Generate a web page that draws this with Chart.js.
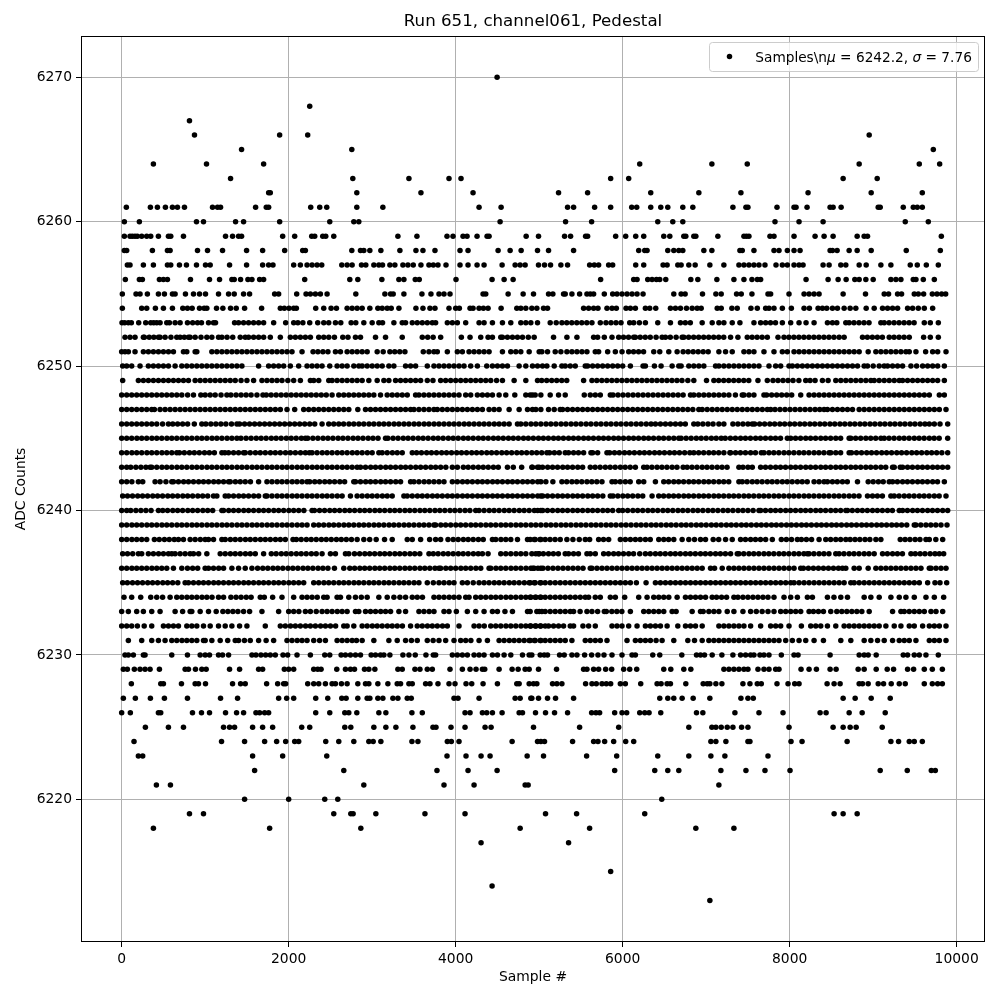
<!DOCTYPE html>
<html><head><meta charset="utf-8">
<script src="https://cdn.jsdelivr.net/npm/chart.js@4"></script>
<style>html,body{margin:0;padding:0;background:#fff}canvas{display:block}</style>
</head><body><canvas id="c" width="1000" height="1000"></canvas>
<script>
const titleText = "Run 651, channel061, Pedestal";
const xLabel = "Sample #";
const yLabel = "ADC Counts";
const xTicks = [0,2000,4000,6000,8000,10000];
const yTicks = [6220,6230,6240,6250,6260,6270];
const r6270=[4496];
const r6268=[2252];
const r6267=[812];
const r6266=[872,1892,2228,8952];
const r6265=[1436,2756,9720];
const r6264=[380,1016,1700,6204,7068,7492,8832,9552,9796];
const r6263=[1304,2768,3440,3920,4064,5856,6072,8640,9048];
const r6262=[1760,1780,2816,3584,4208,5232,5580,6336,6912,7416,8220,8976,9588];
const r6261=[56,344,428,524,608,668,752,1088,1148,1184,1604,1732,1760,2264,2372,2456,2816,3128,4280,4544,5340,5412,5664,5856,6108,6168,6336,6456,6540,6720,6840,7320,7476,7500,7848,8052,8076,8208,8484,8520,8616,9060,9084,9360,9480,9528,9588];
const r6260=[32,212,896,980,1364,1460,1892,2492,2780,2840,4532,5316,5628,6420,6600,6720,7824,8112,8400,9384,9660];
const r6259=[32,100,128,160,188,240,300,348,440,560,588,740,1244,1328,1400,1436,1928,2072,2276,2312,2408,2444,2540,3308,3536,3896,3968,4088,4136,4256,4376,4400,4844,4992,5304,5376,5556,5580,5916,6036,6156,6252,6492,6564,6732,6756,6852,6876,7140,7452,7482,7512,7764,7812,8052,8304,8412,8520,8808,8892,8932,9816];
const r6258=[32,60,368,548,580,908,1028,1208,1496,1688,1952,2168,2200,2756,2860,2900,2972,3104,3332,3524,3608,3752,4052,4148,4508,4652,4784,4980,5112,5412,6192,6264,6292,6540,6612,6672,6720,6972,7068,7404,7432,7572,7812,7872,7972,8052,8124,8484,8512,8568,8712,8808,8976,9396,9804];
const r6257=[68,100,260,380,548,588,692,776,896,1004,1060,1292,1496,1688,1760,1812,2060,2140,2220,2280,2340,2396,2636,2700,2760,2872,2924,3020,3080,3124,3212,3272,3368,3428,3492,3584,3680,3732,3788,3884,4052,4148,4256,4340,4556,4712,4772,4832,4992,5064,5136,5260,5340,5604,5660,5712,5832,5880,6156,6252,6484,6532,6660,6700,6792,6868,7044,7212,7392,7452,7512,7572,7632,7704,7836,7912,7972,8052,8112,8160,8400,8472,8612,8672,8832,8916,9092,9212,9444,9528,9636,9780];
const r6256=[44,212,248,452,500,548,824,1052,1172,1320,1348,1424,1512,1560,1652,1700,2192,2732,2828,3116,3320,3380,3516,3564,4004,4436,4580,4688,5736,6132,6172,6300,6352,6404,6444,6516,6816,6900,7128,7332,7452,7548,7612,7652,8196,8460,8580,8676,8780,8832,8912,9000,9212,9272,9332,9480,9512,9600,9732];
const r6255=[8,172,220,308,440,512,608,640,764,860,932,1004,1160,1280,1348,1460,1532,1832,1880,2096,2208,2260,2320,2380,2460,2804,3152,3220,3252,3380,3596,3704,3800,3860,3932,4328,4360,4628,4808,4932,5112,5164,5292,5312,5392,5484,5572,5612,5652,5780,5880,5932,5992,6052,6112,6172,6244,6612,6700,6748,6956,7116,7180,7364,7420,7548,7740,7772,7992,8172,8232,8292,8352,8640,8908,9132,9184,9292,9340,9492,9540,9604,9708,9764,9820,9868];
const r6254=[8,240,300,404,500,608,732,788,844,932,988,1020,1136,1212,1304,1372,1472,1676,1900,1948,2004,2060,2092,2324,2420,2508,2572,2700,2760,2820,2880,2972,3068,3120,3180,3228,3320,3524,3608,3692,3752,3920,4000,4044,4172,4208,4280,4332,4388,4544,4732,4780,4840,4912,4972,5052,5100,5532,5592,5652,5704,5812,5872,5924,6040,6092,6152,6272,6324,6396,6572,6632,6692,6764,6832,6892,6940,7132,7180,7308,7372,7536,7612,7712,7752,7812,7912,8020,8172,8236,8340,8392,8444,8512,8572,8652,8724,8792,8916,9012,9112,9172,9232,9292,9412,9472,9540,9612,9712];
const r6253=[4,36,80,116,204,288,348,384,420,460,540,572,640,700,788,850,908,956,1040,1100,1124,1352,1400,1460,1520,1580,1640,1700,1820,1964,2060,2110,2170,2252,2348,2420,2480,2560,2624,2748,2804,2900,3000,3080,3124,3260,3360,3400,3480,3540,3600,3660,3720,3760,3900,3960,4020,4120,4280,4340,4440,4560,4660,4780,4840,4900,4980,5132,5204,5272,5330,5390,5450,5510,5570,5632,5732,5800,5860,5920,5980,6084,6132,6200,6272,6420,6572,6692,6750,6810,6952,7072,7152,7212,7312,7404,7572,7652,7712,7770,7830,7912,8012,8112,8196,8292,8452,8512,8564,8672,8712,8770,8830,8890,8950,9092,9132,9190,9250,9310,9370,9430,9490,9612,9684,9780];
const r6252=[40,100,160,260,272,330,385,440,460,520,590,660,700,750,800,820,880,950,1020,1080,1160,1200,1262,1330,1420,1480,1520,1580,1640,1700,1780,1900,2020,2080,2140,2200,2260,2360,2420,2480,2548,2648,2710,2800,2860,3040,3160,3360,3600,3665,3730,3820,4068,4172,4300,4388,4440,4540,4560,4620,4680,4740,4800,4870,4940,5172,5332,5452,5652,5700,5780,5872,5952,6010,6070,6132,6152,6210,6270,6330,6400,6472,6512,6570,6640,6712,6732,6790,6850,6910,6970,7030,7090,7150,7210,7292,7380,7492,7550,7610,7670,7732,7860,7932,7990,8050,8110,8170,8230,8290,8350,8410,8470,8530,8592,8652,8872,8930,8990,9050,9110,9192,9250,9310,9370,9432,9604,9684,9780];
const r6251=[0,40,80,160,260,320,380,440,500,560,620,740,780,880,900,1080,1140,1200,1260,1320,1380,1440,1500,1560,1620,1680,1740,1800,1860,1920,1980,2040,2160,2292,2350,2410,2470,2560,2620,2700,2760,2820,2880,2940,3060,3132,3212,3270,3330,3392,3612,3680,3740,3780,3900,4020,4080,4160,4220,4280,4340,4400,4560,4660,4720,4780,4880,5000,5032,5100,5192,5260,5332,5392,5452,5512,5572,5672,5712,5820,5912,5992,6072,6130,6190,6250,6372,6444,6552,6652,6724,6784,6844,6904,6964,7024,7152,7232,7312,7452,7512,7572,7692,7812,7912,7972,8052,8112,8172,8232,8292,8352,8412,8472,8532,8592,8652,8712,8772,8832,8940,9032,9092,9152,9212,9272,9332,9392,9432,9512,9628,9712,9772,9872];
const r6250=[12,60,120,220,320,380,440,500,560,640,720,780,840,900,960,1020,1080,1140,1200,1260,1320,1380,1440,1640,1760,1820,1880,1940,2020,2120,2220,2280,2340,2400,2492,2580,2640,2700,2780,2840,2880,2940,3000,3060,3120,3200,3260,3400,3460,3520,3660,3740,3800,3860,3920,3980,4040,4100,4180,4260,4372,4440,4500,4560,4620,4760,4840,4920,4980,5040,5092,5180,5272,5312,5372,5432,5552,5580,5640,5700,5760,5820,5880,5940,6000,6092,6244,6272,6380,6460,6592,6672,6700,6792,6852,6912,6972,7112,7152,7212,7272,7332,7392,7452,7512,7572,7632,7752,7832,7892,7992,8032,8092,8152,8212,8272,8332,8392,8452,8512,8572,8632,8692,8752,8812,8892,8932,9000,9072,9132,9172,9232,9292,9352,9452,9520,9592,9652,9712,9772,9852];
const r6249=[12,200,260,320,380,440,500,560,620,680,740,800,880,940,1000,1060,1120,1180,1240,1300,1360,1430,1500,1580,1680,1740,1800,1860,1920,1990,2060,2140,2260,2300,2360,2480,2520,2580,2640,2700,2760,2820,2880,2960,3060,3140,3200,3280,3340,3400,3460,3520,3580,3660,3728,3820,3880,3940,4000,4060,4120,4180,4240,4300,4360,4420,4490,4560,4700,4840,4980,5030,5090,5150,5210,5270,5330,5532,5632,5690,5750,5810,5870,5930,5990,6050,6110,6170,6230,6290,6350,6410,6470,6530,6590,6650,6710,6780,6852,7004,7092,7150,7210,7270,7330,7390,7450,7510,7620,7732,7800,7860,7920,7980,8040,8110,8192,8244,8304,8392,8460,8552,8612,8672,8732,8792,8852,8912,8972,9012,9072,9132,9192,9252,9312,9352,9412,9472,9532,9592,9652,9712,9772,9852];
const r6248=[0,60,120,180,240,300,360,420,480,540,600,660,720,790,860,948,1000,1060,1120,1190,1260,1308,1370,1430,1490,1550,1620,1692,1732,1790,1850,1910,1970,2030,2090,2150,2210,2270,2330,2390,2450,2520,2600,2660,2720,2780,2840,2900,2960,3020,3100,3180,3240,3300,3360,3420,3520,3560,3620,3680,3740,3800,3860,3920,3980,4040,4120,4180,4260,4320,4380,4440,4520,4600,4708,4840,4920,5020,4892,4952,5132,5232,5312,5540,5612,5672,5732,5852,5884,5944,6004,6064,6124,6184,6244,6304,6364,6424,6484,6544,6604,6664,6724,6812,6852,6912,6972,7032,7092,7152,7212,7272,7350,7432,7452,7512,7572,7692,7724,7784,7844,7904,7964,8024,8132,8232,8292,8352,8412,8472,8532,8592,8652,8712,8772,8832,8892,8952,9012,9072,9132,9192,9252,9312,9372,9432,9492,9552,9612,9672,9792,9852];
const r6247=[0,60,120,180,240,300,360,392,460,520,580,640,700,760,820,880,940,1000,1060,1120,1180,1240,1300,1360,1420,1480,1540,1600,1660,1720,1780,1840,1900,1980,2072,2180,2240,2300,2360,2420,2480,2540,2600,2660,2720,2828,2920,2980,3040,3100,3160,3220,3280,3340,3400,3460,3500,3560,3620,3680,3740,3780,3840,3900,3960,4020,4080,4140,4200,4260,4320,4400,4460,4520,4640,4760,4860,4920,4960,5020,5112,5180,5252,5280,5340,5400,5460,5520,5580,5640,5700,5760,5820,5880,5940,6000,6060,6120,6180,6240,6300,6360,6420,6480,6540,6600,6660,6720,6780,6840,6912,6952,7012,7072,7132,7192,7252,7312,7372,7432,7492,7552,7612,7672,7732,7772,7824,7884,7944,8004,8064,8124,8184,8244,8304,8360,8412,8452,8512,8572,8632,8692,8752,8832,8892,8952,9012,9072,9132,9192,9252,9312,9372,9432,9492,9552,9612,9672,9732,9792,9872];
const r6246=[0,60,120,180,240,300,360,420,490,560,612,670,730,790,870,960,1008,1068,1128,1188,1248,1315,1380,1412,1472,1532,1592,1652,1712,1772,1832,1892,1952,2012,2072,2132,2192,2252,2312,2400,2480,2540,2600,2658,2722,2780,2841,2900,2962,3020,3082,3140,3200,3262,3320,3381,3440,3502,3560,3622,3680,3741,3800,3860,3921,3980,4040,4102,4160,4220,4281,4340,4400,4462,4520,4580,4640,4740,4780,4840,4902,4960,5020,5082,5140,5200,5262,5320,5382,5440,5500,5562,5620,5682,5740,5802,5860,5922,5980,6042,6100,6162,6220,6282,6340,6392,6452,6512,6572,6632,6692,6750,6852,6900,6960,7022,7082,7152,7212,7320,7380,7440,7500,7552,7580,7640,7700,7762,7820,7882,7940,8002,8060,8122,8180,8242,8300,8362,8420,8482,8540,8602,8660,8722,8780,8842,8900,8962,9020,9082,9140,9202,9260,9322,9380,9442,9500,9562,9620,9672,9732,9800,9892];
const r6245=[0,60,120,182,240,300,362,420,480,542,600,660,722,780,840,902,960,1020,1082,1140,1200,1262,1320,1380,1428,1490,1550,1612,1670,1730,1792,1850,1910,1972,2030,2090,2152,2200,2228,2290,2350,2412,2470,2530,2592,2650,2710,2772,2830,2890,2952,3010,3070,3160,3188,3250,3310,3372,3430,3490,3552,3610,3670,3732,3790,3850,3912,3970,4030,4092,4150,4210,4272,4330,4390,4452,4510,4570,4632,4690,4750,4812,4870,4930,4992,5050,5110,5172,5230,5290,5352,5410,5470,5532,5590,5650,5712,5770,5830,5892,5950,6010,6072,6130,6190,6252,6310,6370,6432,6490,6552,6612,6672,6700,6760,6820,6882,6940,7000,7062,7120,7180,7228,7290,7350,7412,7470,7530,7592,7650,7710,7772,7830,7890,7972,8012,8070,8130,8192,8250,8310,8372,8430,8490,8552,8610,8712,8732,8790,8850,8912,8970,9030,9092,9132,9190,9250,9312,9370,9430,9492,9550,9610,9672,9730,9790,9892];
const r6244=[0,60,122,180,240,302,360,420,482,540,600,660,692,750,812,870,930,992,1050,1110,1200,1236,1280,1340,1400,1460,1480,1540,1602,1660,1720,1782,1840,1900,1962,2020,2080,2142,2200,2248,2280,2340,2402,2460,2520,2582,2640,2700,2762,2820,2880,2942,3000,3080,3120,3180,3242,3300,3360,3480,3532,3590,3652,3710,3770,3832,3890,3950,4012,4070,4130,4192,4250,4310,4372,4430,4490,4552,4610,4670,4732,4790,4850,4912,4970,5030,5092,5124,5182,5240,5312,5352,5412,5470,5532,5620,5640,5700,5812,5844,5902,5960,6022,6080,6140,6202,6260,6320,6382,6440,6500,6562,6620,6680,6742,6804,6852,6910,6970,7032,7090,7150,7212,7284,7292,7352,7410,7470,7532,7590,7660,7692,7752,7810,7870,7932,7990,8050,8112,8170,8230,8292,8350,8410,8472,8492,8552,8610,8712,8740,8800,8860,8922,8980,9040,9102,9160,9220,9282,9340,9400,9462,9520,9580,9642,9700,9760,9822,9892];
const r6243=[0,60,108,170,230,290,340,360,420,482,540,600,662,720,780,842,900,960,1022,1080,1140,1202,1260,1320,1382,1440,1500,1562,1620,1680,1742,1800,1860,1922,1980,2040,2102,2160,2220,2282,2340,2400,2462,2520,2580,2642,2700,2760,2820,2860,2920,2982,3040,3100,3162,3220,3280,3342,3400,3460,3522,3580,3640,3702,3760,3820,3882,3960,4020,4092,4150,4210,4272,4330,4390,4452,4510,4620,4690,4790,4920,5000,4912,4980,5040,5102,5160,5220,5282,5340,5400,5462,5520,5612,5670,5730,5792,5850,5910,5972,6030,6090,6152,6252,6292,6350,6412,6470,6530,6592,6650,6724,6772,6830,6890,6952,7010,7070,7132,7190,7250,7392,7440,7500,7552,7652,7710,7770,7832,7890,7950,8012,8070,8130,8192,8250,8310,8372,8430,8490,8552,8610,8670,8732,8790,8850,8912,8970,9030,9092,9150,9232,9252,9324,9352,9412,9470,9532,9590,9650,9712,9770,9830,9892];
const r6242=[0,60,122,200,252,400,460,530,600,620,680,742,800,860,922,980,1040,1102,1160,1220,1280,1300,1362,1420,1480,1542,1640,1740,1800,1862,1920,1980,2042,2100,2160,2220,2252,2312,2370,2432,2490,2550,2612,2670,2780,2800,2860,2922,2980,3040,3102,3160,3220,3282,3340,3460,3500,3560,3622,3680,3740,3800,3860,3960,4020,4082,4140,4200,4262,4320,4380,4442,4500,4560,4622,4680,4740,4802,4860,4920,4982,5020,5080,5164,5272,5330,5392,5450,5510,5572,5630,5690,5752,5872,5912,5970,6032,6090,6192,6252,6392,6492,6550,6612,6670,6730,6792,6850,6910,6972,7030,7090,7152,7210,7270,7392,7432,7490,7552,7610,7670,7732,7790,7850,7912,7970,8030,8092,8150,8210,8292,8352,8412,8452,8512,8570,8632,8690,8812,8940,9000,9062,9120,9192,9232,9290,9352,9410,9470,9532,9590,9650,9712,9770,9852];
const r6241=[12,70,130,192,250,310,372,430,490,552,610,670,732,790,850,912,970,1030,1100,1140,1240,1280,1340,1402,1460,1520,1582,1640,1720,1740,1800,1862,1920,1980,2042,2100,2160,2222,2280,2340,2402,2460,2520,2582,2640,2740,2820,2880,2942,3000,3060,3122,3180,3240,3380,3420,3480,3542,3600,3660,3722,3780,3840,3902,3960,4020,4082,4140,4200,4262,4320,4380,4442,4500,4560,4622,4680,4740,4802,4860,4920,5020,4982,5042,5100,5160,5222,5280,5340,5402,5460,5520,5582,5640,5700,5762,5852,5884,5942,6002,6060,6120,6182,6240,6352,6432,6490,6552,6610,6670,6732,6790,6850,6912,6970,7030,7092,7150,7210,7272,7330,7390,7452,7510,7570,7632,7690,7750,7812,7870,7930,7992,8050,8110,8172,8230,8290,8352,8410,8470,8532,8590,8650,8712,8770,8830,8932,8992,9050,9110,9212,9252,9310,9372,9430,9490,9552,9610,9670,9732,9790,9872];
const r6240=[0,60,108,170,230,290,352,440,492,550,612,670,730,792,850,910,972,1030,1090,1200,1220,1282,1340,1400,1462,1520,1580,1642,1700,1760,1822,1880,1940,2002,2060,2120,2182,2280,2308,2370,2430,2492,2550,2610,2672,2730,2790,2852,2910,2970,3032,3090,3150,3212,3270,3330,3392,3450,3510,3572,3630,3690,3752,3810,3870,3932,3990,4050,4112,4170,4240,4280,4340,4402,4460,4520,4582,4640,4700,4762,4820,4880,4942,5020,4982,5042,5100,5160,5222,5280,5340,5402,5460,5520,5582,5640,5700,5762,5820,5880,5952,6000,6060,6122,6180,6240,6302,6360,6420,6482,6540,6600,6662,6720,6780,6842,6900,6960,7022,7080,7140,7202,7260,7320,7382,7440,7500,7562,7632,7652,7710,7772,7830,7890,7952,8010,8070,8132,8190,8250,8312,8370,8430,8492,8550,8610,8672,8692,8750,8812,8870,8930,8992,9050,9110,9172,9230,9312,9352,9410,9472,9530,9590,9652,9710,9770,9832,9892];
const r6239=[0,60,122,180,240,302,360,420,482,540,600,662,720,780,842,900,960,1022,1080,1140,1202,1260,1320,1382,1440,1500,1562,1620,1680,1742,1800,1860,1922,1980,2040,2102,2160,2220,2300,2360,2420,2482,2540,2600,2662,2720,2780,2842,2900,2960,3022,3080,3140,3202,3260,3320,3382,3440,3500,3562,3620,3680,3740,3760,3822,3880,3940,4002,4060,4120,4182,4240,4300,4362,4420,4480,4542,4600,4660,4722,4780,4840,4902,4960,5020,5082,5140,5200,5262,5320,5380,5442,5500,5560,5622,5680,5740,5802,5860,5920,5982,6040,6100,6162,6220,6280,6342,6400,6460,6522,6580,6640,6702,6760,6820,6882,6940,7000,7062,7120,7180,7242,7300,7360,7422,7480,7540,7602,7660,7720,7782,7840,7900,7962,8020,8080,8142,8200,8260,8322,8380,8440,8502,8560,8620,8682,8740,8800,8862,8920,8980,9042,9100,9160,9222,9280,9340,9402,9492,9512,9570,9632,9690,9750,9812,9884];
const r6238=[0,60,122,180,240,300,392,450,512,570,630,680,740,820,880,942,1000,1040,1100,1200,1240,1302,1360,1420,1482,1540,1600,1662,1720,1780,1842,1900,1960,2052,2092,2150,2212,2270,2330,2392,2450,2510,2572,2630,2690,2752,2820,2900,2970,3048,3148,3240,3420,3480,3580,3688,3760,3820,3908,3970,4030,4092,4150,4210,4272,4330,4440,4480,4542,4600,4660,4740,4860,4940,5020,4892,4952,5010,5072,5130,5190,5252,5332,5404,5480,5552,5604,5712,5770,5832,5972,6032,6092,6152,6210,6272,6330,6432,6492,6550,6612,6712,6792,6860,6932,6992,7084,7150,7232,7312,7412,7470,7532,7590,7650,7712,7792,7900,7960,8022,8092,8140,8200,8262,8352,8432,8490,8552,8610,8672,8724,8782,8840,8902,8960,9032,9092,9324,9382,9440,9502,9560,9632,9672,9750,9832];
const r6237=[12,70,132,200,240,320,380,442,500,560,600,640,700,760,820,860,922,1020,1180,1240,1302,1360,1420,1482,1540,1600,1700,1792,1850,1912,1970,2030,2092,2150,2210,2272,2330,2400,2500,2560,2680,2720,2788,2850,2912,2970,3030,3092,3150,3210,3272,3330,3390,3452,3510,3570,3680,3732,3790,3852,3910,3970,4032,4090,4150,4212,4270,4320,4388,4540,4600,4660,4722,4780,4840,4960,5000,4912,4992,5050,5112,5170,5230,5312,5352,5412,5470,5572,5612,5672,5772,5830,5892,5950,6010,6072,6130,6204,6272,6330,6392,6450,6510,6572,6630,6690,6752,6810,6870,6932,6990,7050,7112,7170,7230,7292,7372,7392,7450,7512,7570,7630,7692,7750,7810,7872,7930,7990,8052,8110,8170,8212,8232,8290,8352,8410,8470,8552,8592,8650,8712,8770,8830,8892,8950,9012,9112,9170,9232,9290,9350,9452,9504,9562,9620,9682,9740,9792,9844];
const r6236=[0,60,122,180,240,300,362,420,480,540,620,720,788,850,910,1000,1040,1100,1162,1220,1320,1400,1480,1560,1628,1690,1750,1812,1870,1930,1992,2050,2110,2172,2230,2290,2352,2410,2470,2548,2660,2732,2790,2852,2910,2970,3032,3090,3150,3212,3270,3330,3392,3450,3510,3572,3630,3690,3752,3800,3820,3882,3940,4000,4062,4120,4180,4242,4300,4400,4420,4482,4540,4600,4662,4720,4780,4842,4900,4940,5020,4924,4985,5045,5105,5165,5225,5285,5345,5405,5465,5525,5612,5632,5692,5752,5812,5872,5932,5992,6052,6112,6172,6232,6292,6352,6412,6472,6532,6592,6652,6712,6772,6832,6892,6952,7052,7100,7192,7272,7332,7392,7452,7512,7572,7632,7692,7752,7812,7872,7932,7992,8052,8132,8164,8224,8284,8344,8404,8464,8524,8584,8632,8672,8772,8832,8940,9032,9092,9152,9212,9272,9332,9392,9452,9512,9572,9672,9692,9752,9812,9872];
const r6235=[12,68,130,190,250,312,370,430,492,550,610,672,760,800,860,922,980,1040,1102,1160,1220,1282,1340,1400,1462,1520,1580,1642,1700,1760,1822,1880,1940,2002,2060,2120,2180,2300,2360,2422,2480,2540,2602,2660,2720,2782,2840,2900,2962,3020,3080,3142,3200,3260,3322,3380,3440,3502,3560,3660,3732,3800,3860,3922,3980,4080,4140,4210,4280,4340,4400,4462,4520,4580,4642,4700,4760,4822,4880,4940,5020,4892,4952,5012,5072,5132,5192,5252,5312,5372,5432,5492,5552,5612,5672,5732,5792,5852,5912,5972,6032,6092,6164,6280,6392,6452,6512,6572,6632,6692,6752,6812,6872,6932,6992,7052,7112,7172,7232,7292,7352,7412,7472,7532,7592,7652,7712,7772,7832,7892,7952,8012,8052,8112,8172,8232,8292,8352,8412,8472,8532,8592,8652,8732,8772,8832,8892,8952,9012,9072,9132,9192,9252,9312,9372,9432,9492,9552,9652,9740,9800,9880];
const r6234=[28,120,228,348,420,490,580,660,720,782,840,900,962,1020,1082,1160,1220,1308,1370,1430,1492,1550,1660,1708,1808,1920,2060,2160,2220,2280,2342,2420,2460,2580,2620,2720,2800,2870,2940,3080,3180,3260,3332,3400,3480,3540,3602,3740,3800,3860,3922,3980,4040,4120,4160,4240,4300,4360,4422,4480,4540,4602,4660,4720,4782,4840,4900,4962,5020,4892,4952,5012,5072,5132,5192,5252,5312,5372,5432,5492,5552,5592,5672,5732,5852,5912,6024,6192,6292,6372,6432,6492,6552,6652,6752,6812,6872,6932,6992,7072,7124,7184,7244,7332,7380,7440,7500,7560,7620,7680,7740,7812,7932,8012,8092,8212,8272,8452,8530,8612,8692,8892,8972,9072,9212,9312,9392,9492,9632,9732,9844];
const r6233=[0,80,180,260,360,460,640,730,820,840,940,1040,1132,1212,1272,1332,1392,1460,1532,1680,1880,2000,2060,2122,2200,2260,2330,2400,2460,2520,2582,2640,2700,2800,2840,2920,2980,3040,3102,3160,3220,3320,3400,3560,3620,3682,3740,3860,3920,4008,4140,4240,4340,4440,4500,4590,4680,4860,5000,4892,4972,5032,5072,5132,5192,5252,5312,5372,5412,5490,5572,5632,5700,5780,5804,5870,5930,5990,6092,6252,6312,6372,6432,6492,6592,6640,6832,6932,6964,7032,7092,7152,7252,7332,7440,7532,7600,7670,7740,7812,7892,7952,8012,8072,8132,8232,8284,8344,8404,8492,8564,8624,8684,8744,8804,8864,8952,9232,9332,9372,9432,9492,9552,9612,9692,9752,9832];
const r6232=[0,60,120,188,270,360,500,560,620,680,780,840,900,980,1060,1160,1240,1320,1412,1500,1720,1900,1960,2022,2080,2140,2202,2260,2320,2382,2440,2500,2562,2660,2700,2780,2880,2940,3002,3060,3120,3182,3240,3300,3362,3460,3540,3600,3662,3720,3780,3842,3900,4040,4220,4280,4342,4420,4480,4540,4602,4660,4720,4782,4840,4900,4962,5020,4892,4952,5012,5072,5112,5172,5232,5292,5372,5412,5524,5592,5672,5872,5932,5992,6072,6172,6272,6332,6392,6452,6532,6660,6752,6812,6872,6952,7152,7212,7272,7332,7392,7452,7532,7652,7772,7832,7892,7992,8140,8252,8312,8372,8452,8552,8652,8712,8772,8832,8892,8952,9012,9072,9152,9252,9332,9432,9492,9592,9672,9732,9792,9872];
const r6231=[80,240,360,440,520,600,660,722,780,840,900,980,1000,1080,1180,1270,1360,1400,1470,1540,1640,1730,1820,1980,2040,2102,2160,2220,2300,2370,2440,2580,2640,2700,2760,2812,2880,3020,3200,3300,3400,3470,3540,3660,3730,3800,3880,3980,4060,4120,4182,4280,4380,4520,4580,4642,4700,4760,4820,4880,4942,5020,4892,4952,5012,5072,5132,5192,5252,5312,5392,5552,5612,5672,5732,5812,6052,6152,6212,6272,6332,6400,6472,6612,6780,6860,6952,7032,7092,7152,7212,7272,7332,7392,7452,7512,7572,7632,7692,7752,7812,7872,7952,8032,8112,8192,8292,8404,8612,8732,8892,8972,9052,9132,9232,9312,9372,9432,9512,9672,9732,9792,9872];
const r6230=[40,80,140,260,280,600,788,940,1000,1052,1160,1208,1280,1560,1608,1668,1724,1780,1840,1932,1988,2100,2260,2432,2492,2628,2680,2740,2800,2860,2988,3040,3100,3140,3212,3368,3440,3516,3644,3732,3760,3960,4020,4080,4140,4220,4280,4340,4440,4500,4580,4660,4800,4880,4912,5012,5060,5100,5244,5300,5392,5452,5544,5628,5704,5776,5872,5992,6112,6152,6360,6444,6708,6884,6932,6980,7072,7188,7320,7412,7472,7532,7572,7644,7692,7752,7900,8052,8100,8484,8832,8892,8940,9036,9360,9412,9492,9552,9632,9780];
const r6229=[20,68,152,220,280,340,452,760,800,884,960,1012,1292,1412,1640,1688,1948,2000,2060,2300,2348,2388,2576,2680,2740,2788,2908,2960,3032,3308,3360,3512,3572,3660,3720,3932,4080,4172,4244,4320,4348,4520,4676,4748,4832,4880,4992,5208,5532,5572,5652,5712,5796,5868,6012,6084,6168,6492,6576,6732,6816,7212,7272,7332,7392,7452,7500,7620,7692,7752,7832,7872,8136,8232,8320,8484,8556,8820,8892,9036,9168,9244,9412,9484,9612,9708,9828];
const r6228=[116,468,500,716,880,920,1004,1328,1424,1480,1736,1868,1940,1964,2228,2300,2360,2440,2520,2560,2632,2700,2828,2920,2960,3068,3188,3300,3340,3440,3480,3640,3692,3788,3920,3992,4124,4192,4328,4500,4732,4760,4880,4932,4972,5160,5212,5272,5556,5632,5684,5752,5804,5856,5972,6032,6216,6412,6460,6532,6572,6756,6964,7012,7044,7116,7188,7440,7524,7612,7660,7848,7980,8060,8112,8448,8532,8604,8832,8872,8940,9060,9124,9216,9312,9384,9612,9708,9772,9828];
const r6227=[20,164,344,512,788,1184,1388,1880,1976,2060,2324,2468,2636,2688,2828,2940,2972,3068,3128,3248,3308,3420,3468,3980,4028,4280,4712,4772,4900,4912,4992,5100,5196,5412,6444,6540,6612,6712,6844,7044,7416,7500,7564,8640,8784,8976,9204];
const r6226=[0,104,440,468,848,956,1052,1244,1376,1460,1608,1652,1712,1760,2324,2492,2672,2720,2816,3080,3164,3476,3600,4112,4172,4320,4372,4440,4556,4760,4800,4956,5076,5184,5340,5628,5680,5724,5904,5992,6048,6204,6264,6316,6456,6884,6960,7344,7632,7920,8364,8436,8712,8868,9144];
const r6225=[284,560,740,1220,1292,1352,1568,1688,1808,2156,2252,2672,2744,3020,3164,3284,3488,3728,3764,3944,4112,4352,4424,4932,5484,5952,6792,7068,7116,7180,7252,7320,7424,7500,7992,8520,8640,8724,8796,9108];
const r6224=[148,1196,1472,1712,1856,1964,2072,2120,2444,2600,2780,2960,3012,3104,3476,3548,3900,3948,4040,4676,4980,5020,5064,5400,5652,5704,5784,5892,6036,6132,7056,7116,7236,7500,7524,8016,8148,8688,9212,9304,9432,9492,9588];
const r6223=[200,252,1568,1928,2456,3896,4124,4304,4412,4856,5052,5568,5928,6420,6792,7056,7224,7740];
const r6222=[1592,2660,3776,4148,4496,5904,6384,6540,6672,7176,7476,7704,8004,9084,9408,9696,9744];
const r6221=[416,584,2900,3860,4220,4832,4868,7152];
const r6220=[1472,2000,2432,2588,6468];
const r6219=[812,980,2540,2744,2772,3044,3632,4112,5076,5448,6264,8532,8640,8808];
const r6218=[380,1772,2864,4772,5604,6876,7332];
const r6217=[4304,5352];
const r6215=[5856];
const r6214=[4436];
const r6213=[7044];
const rows = {6270:r6270,6268:r6268,6267:r6267,6266:r6266,6265:r6265,6264:r6264,6263:r6263,6262:r6262,6261:r6261,6260:r6260,6259:r6259,6258:r6258,6257:r6257,6256:r6256,6255:r6255,6254:r6254,6253:r6253,6252:r6252,6251:r6251,6250:r6250,6249:r6249,6248:r6248,6247:r6247,6246:r6246,6245:r6245,6244:r6244,6243:r6243,6242:r6242,6241:r6241,6240:r6240,6239:r6239,6238:r6238,6237:r6237,6236:r6236,6235:r6235,6234:r6234,6233:r6233,6232:r6232,6231:r6231,6230:r6230,6229:r6229,6228:r6228,6227:r6227,6226:r6226,6225:r6225,6224:r6224,6223:r6223,6222:r6222,6221:r6221,6220:r6220,6219:r6219,6218:r6218,6217:r6217,6215:r6215,6214:r6214,6213:r6213};
const points = [];
for (const level of Object.keys(rows)) for (const s of rows[level]) points.push({x:s,y:+level});

const frame = {id:'frame',afterDraw(c){
  const a=c.chartArea,g=c.ctx;g.save();
  g.strokeStyle='#000';g.lineWidth=1;g.strokeRect(Math.round(a.left)+.5,Math.round(a.top)+.5,Math.round(a.right-a.left)-1,Math.round(a.bottom-a.top)-1);
  const bx=709.5,by=42.5,bw=269,bh=29,r=3;
  g.beginPath();g.roundRect(bx,by,bw,bh,r);g.fillStyle='rgba(255,255,255,0.8)';g.fill();g.strokeStyle='#ccc';g.stroke();
  g.fillStyle='#000';g.beginPath();g.arc(729.5,56.5,2.75,0,Math.PI*2);g.fill();
  g.textBaseline='alphabetic';g.textAlign='left';
  let x=755.3;const y=61.5;
  const parts=[['Samples\\n',0],['μ',1],[' = 6242.2, ',0],['σ',1],[' = 7.76',0]];
  for(const [t,it] of parts){g.font=(it?'italic ':'')+'13.7px "DejaVu Sans"';g.fillText(t,x,y);x+=g.measureText(t).width;}
  g.restore();
}};
new Chart(document.getElementById('c'),{
  type:'scatter',
  data:{datasets:[{label:'Samples',data:points,backgroundColor:'#000',borderWidth:0,pointRadius:2.75,pointHoverRadius:2.75,showLine:false}]},
  options:{
    responsive:false,animation:false,devicePixelRatio:1,
    layout:{padding:{top:0,right:15,bottom:0,left:0}},
    plugins:{legend:{display:false},tooltip:{enabled:false},
      title:{display:true,text:titleText,fullSize:false,color:'#000',font:{family:'"DejaVu Sans"',size:16.67,weight:'normal'},padding:{top:12,bottom:4}}},
    scales:{
      x:{type:'linear',min:-487,max:10339,
        afterFit(s){s.height=58;},
        afterBuildTicks(s){s.ticks=xTicks.map(v=>({value:v}));},
        title:{display:true,text:xLabel,color:'#000',font:{family:'"DejaVu Sans"',size:13.89},padding:{top:15,bottom:14}},
        grid:{color:'#b0b0b0',lineWidth:1,tickColor:'#000',tickLength:5},border:{display:false},
        ticks:{autoSkip:false,color:'#000',maxRotation:0,padding:4,font:{family:'"DejaVu Sans"',size:13.89},callback:v=>String(v)}},
      y:{type:'linear',min:6210.12,max:6272.86,
        afterFit(s){s.width=81;},
        afterBuildTicks(s){s.ticks=yTicks.map(v=>({value:v}));},
        title:{display:true,text:yLabel,color:'#000',font:{family:'"DejaVu Sans"',size:13.89},padding:{top:13,bottom:13}},
        grid:{color:'#b0b0b0',lineWidth:1,tickColor:'#000',tickLength:5},border:{display:false},
        ticks:{autoSkip:false,color:'#000',padding:4,font:{family:'"DejaVu Sans"',size:13.89},callback:v=>String(v)}}
    }
  },
  plugins:[frame]
});
</script></body></html>
